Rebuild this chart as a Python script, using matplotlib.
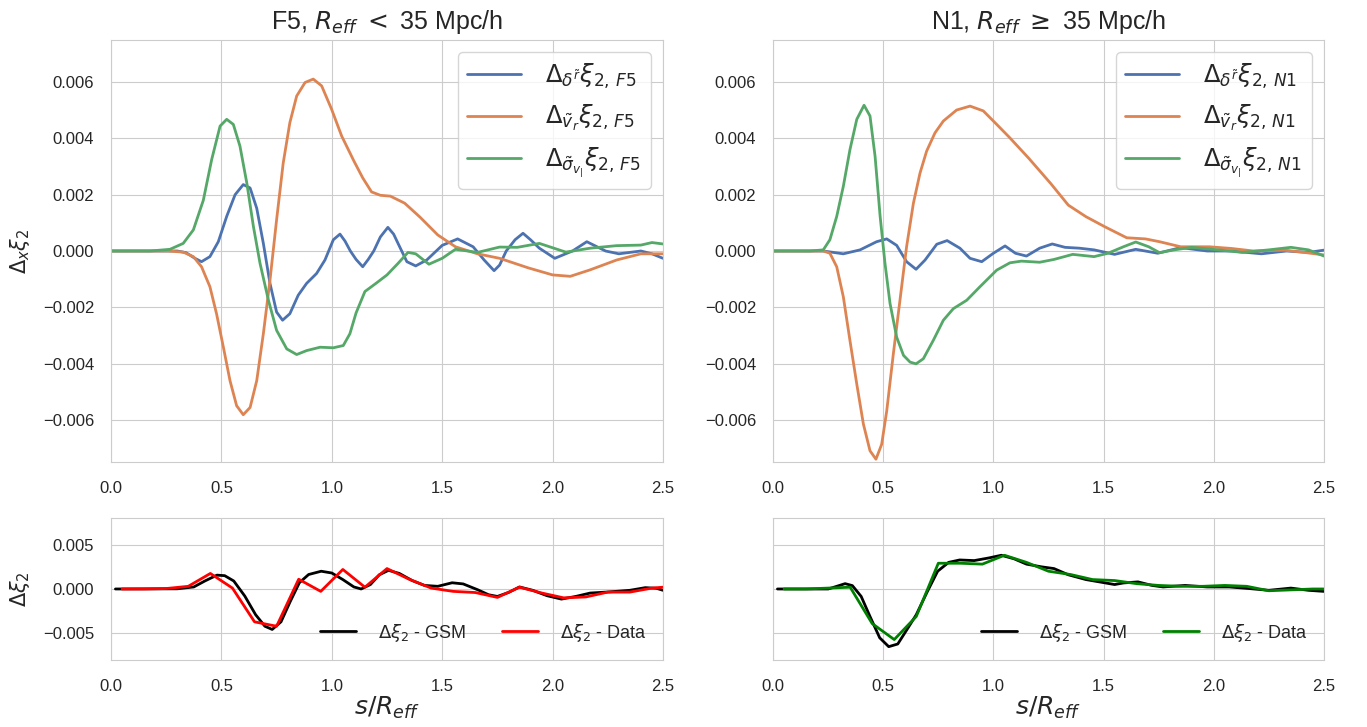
import matplotlib
matplotlib.use("Agg")
import matplotlib.pyplot as plt
import seaborn as sns

sns.set_style("whitegrid")
plt.rcParams['font.family'] = ['Liberation Sans', 'DejaVu Sans']
plt.rcParams['mathtext.fontset'] = 'dejavusans'

# ---- top panels: contributions to Delta xi_2 ----
# F5 (R_eff < 35 Mpc/h)
f5_delta_x = [0.0, 0.30, 0.34, 0.38, 0.41, 0.448, 0.486, 0.524, 0.562, 0.599, 0.63, 0.66,
              0.69, 0.72, 0.75, 0.777, 0.81, 0.848, 0.886, 0.931, 0.969, 1.007, 1.037,
              1.06, 1.084, 1.11, 1.14, 1.165, 1.19, 1.22, 1.254, 1.28, 1.30, 1.34, 1.38,
              1.43, 1.50, 1.57, 1.64, 1.69, 1.735, 1.76, 1.79, 1.83, 1.866, 1.90, 1.94,
              2.01, 2.09, 2.155, 2.24, 2.30, 2.40, 2.45, 2.5]
f5_delta_y = [0.0, 0.0, -0.00006, -0.00026, -0.00038, -0.0002, 0.00033, 0.00123, 0.002,
              0.00236, 0.00224, 0.00152, 0.00027, -0.00115, -0.00217, -0.00246, -0.00223,
              -0.00157, -0.00115, -0.0008, -0.00032, 0.0004, 0.0006, 0.00035, 0.0,
              -0.0003, -0.00056, -0.0003, 0.0, 0.0005, 0.00084, 0.0006, 0.00027, -0.00038,
              -0.00053, -0.00032, 0.0002, 0.00043, 0.00015, -0.00032, -0.0007, -0.0005,
              0.0, 0.0004, 0.00063, 0.0004, 0.0001, -0.00026, 0.0, 0.00033, 0.0, -0.0001,
              0.0, -0.0001, -0.00026]

f5_vr_x = [0.0, 0.26, 0.327, 0.373, 0.41, 0.448, 0.478, 0.509, 0.539, 0.569, 0.599, 0.63,
           0.66, 0.69, 0.72, 0.75, 0.78, 0.81, 0.841, 0.879, 0.916, 0.954, 0.999, 1.045,
           1.082, 1.10, 1.14, 1.18, 1.22, 1.265, 1.33, 1.40, 1.48, 1.56, 1.66, 1.76, 1.89,
           2.0, 2.08, 2.17, 2.29, 2.40, 2.5]
f5_vr_y = [0.0, 0.0, -0.00004, -0.0002, -0.00056, -0.00127, -0.00223, -0.00342, -0.00461,
           -0.0055, -0.00582, -0.00556, -0.00461, -0.00294, -0.00104, 0.00111, 0.00313,
           0.00456, 0.00551, 0.00599, 0.00611, 0.00587, 0.00504, 0.00408, 0.00349, 0.0032,
           0.0026, 0.0021, 0.00198, 0.00195, 0.0017, 0.0012, 0.00057, 0.00015, -0.0001,
           -0.00026, -0.0006, -0.00085, -0.0009, -0.00067, -0.00032, -0.0001, -0.0001]

f5_sig_x = [0.0, 0.177, 0.267, 0.327, 0.373, 0.418, 0.456, 0.494, 0.524, 0.554, 0.584,
            0.615, 0.645, 0.675, 0.713, 0.75, 0.796, 0.841, 0.886, 0.947, 1.007, 1.052,
            1.082, 1.11, 1.15, 1.20, 1.25, 1.30, 1.345, 1.38, 1.44, 1.50, 1.56, 1.66,
            1.76, 1.84, 1.94, 2.06, 2.17, 2.29, 2.40, 2.45, 2.5]
f5_sig_y = [0.0, 0.0, 0.00006, 0.00027, 0.00075, 0.0018, 0.00325, 0.00444, 0.00468,
            0.0045, 0.00373, 0.00242, 0.00087, -0.00044, -0.00175, -0.00282, -0.00348,
            -0.00368, -0.00354, -0.00342, -0.00344, -0.00336, -0.00294, -0.0022, -0.00144,
            -0.00115, -0.00085, -0.00044, -0.00005, -0.0001, -0.00047, -0.00026, 0.00006,
            -0.00005, 0.00014, 0.00013, 0.00027, -0.00004, 0.0001, 0.00019, 0.00021,
            0.0003, 0.00025]

# N1 (R_eff >= 35 Mpc/h)
n1_delta_x = [0.0, 0.228, 0.319, 0.395, 0.47, 0.516, 0.561, 0.606, 0.649, 0.69, 0.743,
              0.79, 0.848, 0.894, 0.947, 1.0, 1.053, 1.10, 1.15, 1.21, 1.267, 1.325, 1.39,
              1.457, 1.55, 1.646, 1.746, 1.85, 1.97, 2.08, 2.216, 2.33, 2.43, 2.5]
n1_delta_y = [0.0, 0.0, -0.0001, 0.00004, 0.00033, 0.00043, 0.0002, -0.00038, -0.00065,
              -0.00032, 0.00024, 0.00037, 0.0001, -0.00026, -0.00038, -0.00008, 0.00018,
              -0.00008, -0.00018, 0.0001, 0.00025, 0.00013, 0.0001, 0.00004, -0.00012,
              0.00006, -0.00008, 0.00012, 0.0, 0.0, -0.0001, 0.0, -0.00005, 0.00003]

n1_vr_x = [0.0, 0.228, 0.258, 0.289, 0.319, 0.349, 0.38, 0.41, 0.44, 0.467, 0.493, 0.516,
           0.546, 0.576, 0.606, 0.637, 0.667, 0.697, 0.735, 0.773, 0.833, 0.894, 0.954,
           1.015, 1.075, 1.16, 1.26, 1.34, 1.42, 1.506, 1.605, 1.69, 1.754, 1.85, 1.98,
           2.08, 2.18, 2.32, 2.41, 2.5]
n1_vr_y = [0.0, 0.0, -0.00008, -0.00056, -0.00163, -0.00318, -0.00473, -0.00615, -0.0071,
           -0.0074, -0.00687, -0.00568, -0.00365, -0.00175, 0.00015, 0.0017, 0.00277,
           0.00355, 0.0042, 0.00462, 0.00501, 0.00515, 0.00498, 0.0045, 0.00402, 0.0033,
           0.0024, 0.00163, 0.00122, 0.00086, 0.00047, 0.00043, 0.00033, 0.00015, 0.00015,
           0.00009, 0.0, 0.00003, -0.00005, -0.00014]

n1_sig_x = [0.0, 0.168, 0.228, 0.258, 0.289, 0.319, 0.349, 0.38, 0.413, 0.44, 0.463, 0.486,
            0.508, 0.531, 0.561, 0.592, 0.622, 0.649, 0.682, 0.727, 0.773, 0.818, 0.879,
            0.939, 1.015, 1.075, 1.127, 1.21, 1.275, 1.36, 1.457, 1.52, 1.59, 1.646,
            1.705, 1.754, 1.82, 1.90, 2.02, 2.13, 2.25, 2.35, 2.43, 2.5]
n1_sig_y = [0.0, 0.0, 0.00004, 0.0004, 0.00123, 0.0023, 0.0036, 0.00468, 0.00518, 0.0048,
            0.00337, 0.00123, -0.00044, -0.00187, -0.00306, -0.00371, -0.00395, -0.00401,
            -0.00383, -0.00318, -0.00246, -0.00205, -0.00175, -0.00127, -0.00068,
            -0.00042, -0.00036, -0.0004, -0.0003, -0.00012, -0.0002, -0.00008, 0.00015,
            0.00032, 0.00015, -0.00006, 0.00004, 0.00013, 0.00004, -0.00005, 0.00004,
            0.00013, 0.00004, -0.00018]

# ---- bottom panels: GSM vs data ----
f5_gsm_x = [0.02, 0.30, 0.375, 0.425, 0.48, 0.515, 0.556, 0.606, 0.655, 0.697, 0.73,
            0.77, 0.812, 0.853, 0.895, 0.952, 1.0, 1.05, 1.10, 1.133, 1.175, 1.215, 1.257,
            1.306, 1.364, 1.42, 1.48, 1.545, 1.595, 1.66, 1.71, 1.75, 1.80, 1.85, 1.91,
            1.975, 2.04, 2.105, 2.17, 2.25, 2.35, 2.42, 2.47, 2.5]
f5_gsm_y = [0.0, 0.00002, 0.00023, 0.0009, 0.00156, 0.0015, 0.0009, -0.0008, -0.0029,
            -0.0042, -0.00456, -0.0037, -0.0014, 0.0007, 0.00163, 0.002, 0.0018, 0.00106,
            0.00023, 0.0, 0.0005, 0.0016, 0.0021, 0.00175, 0.00095, 0.0004, 0.0003,
            0.0007, 0.00057, -0.00008, -0.00065, -0.00084, -0.0004, 0.00023, -0.00015,
            -0.00076, -0.00114, -0.00084, -0.00046, -0.00034, -0.00015, 0.00015, 0.00008,
            -0.00015]

data_x = [0.05, 0.15, 0.25, 0.35, 0.45, 0.55, 0.65, 0.75, 0.85, 0.95, 1.05, 1.15, 1.25,
          1.35, 1.45, 1.55, 1.65, 1.75, 1.85, 1.95, 2.05, 2.15, 2.25, 2.35, 2.45, 2.55]
f5_data_y = [0.0, 0.0, 0.00005, 0.0003, 0.00175, 0.0001, -0.0037, -0.0042, 0.0011,
             -0.00027, 0.0022, 0.0002, 0.0023, 0.0011, 0.0001, -0.00027, -0.0004,
             -0.00095, 0.0002, -0.00045, -0.001, -0.0009, -0.00035, -0.00035, 0.0001,
             0.0003]

n1_gsm_x = [0.02, 0.25, 0.27, 0.327, 0.36, 0.40, 0.44, 0.484, 0.525, 0.566, 0.607, 0.65,
            0.70, 0.747, 0.797, 0.847, 0.913, 0.98, 1.036, 1.094, 1.15, 1.217, 1.275,
            1.34, 1.42, 1.49, 1.55, 1.59, 1.656, 1.72, 1.77, 1.87, 1.97, 2.07, 2.165,
            2.25, 2.35, 2.43, 2.5]
n1_gsm_y = [0.0, 0.0, 0.00015, 0.0006, 0.00038, -0.00084, -0.0031, -0.0055, -0.0065,
            -0.0062, -0.0046, -0.0029, -0.0003, 0.002, 0.003, 0.00327, 0.0032, 0.0035,
            0.0038, 0.0034, 0.0028, 0.0025, 0.0023, 0.0016, 0.00106, 0.00076, 0.0005,
            0.00068, 0.0008, 0.0004, 0.00023, 0.0004, 0.00023, 0.00023, 0.00004, -0.00015,
            0.0001, -0.00015, -0.00027]
n1_data_y = [0.0, 0.0, 0.0001, 0.0002, -0.0039, -0.0057, -0.0031, 0.0029, 0.0029, 0.0028,
             0.0038, 0.003, 0.002, 0.00163, 0.00106, 0.00095, 0.0006, 0.0004, 0.0003,
             0.0003, 0.0004, 0.0003, -0.0002, -0.0001, 0.0, 0.0]

blue, orange, green = sns.color_palette("deep")[:3]

fig = plt.figure(figsize=(13.67, 7.27), dpi=100)
ax_tl = fig.add_axes([0.0812, 0.3645, 0.4038, 0.5805])
ax_tr = fig.add_axes([0.5655, 0.3645, 0.4030, 0.5805])
ax_bl = fig.add_axes([0.0812, 0.0922, 0.4038, 0.1953])
ax_br = fig.add_axes([0.5655, 0.0922, 0.4030, 0.1953])

top = [
    (ax_tl, "F5", r"F5, $R_{eff}$ $<$ 35 Mpc/h",
     (f5_delta_x, f5_delta_y), (f5_vr_x, f5_vr_y), (f5_sig_x, f5_sig_y)),
    (ax_tr, "N1", r"N1, $R_{eff}$ $\geq$ 35 Mpc/h",
     (n1_delta_x, n1_delta_y), (n1_vr_x, n1_vr_y), (n1_sig_x, n1_sig_y)),
]
for ax, tag, title, d, v, s in top:
    ax.plot(*d, color=blue, lw=2, label=r"$\Delta_{\delta^{\tilde{r}}}\xi_{2,\,%s}$" % tag)
    ax.plot(*v, color=orange, lw=2, label=r"$\Delta_{\tilde{v}_r}\xi_{2,\,%s}$" % tag)
    ax.plot(*s, color=green, lw=2, label=r"$\Delta_{\tilde{\sigma}_{v_|}}\xi_{2,\,%s}$" % tag)
    ax.set_xlim(0, 2.5)
    ax.set_ylim(-0.0075, 0.0075)
    ax.set_yticks([-0.006, -0.004, -0.002, 0.0, 0.002, 0.004, 0.006])
    ax.set_title(title, fontsize=18, pad=8)
    ax.legend(loc="upper right", fontsize=17.5, handlelength=2.2, handletextpad=1.0,
              framealpha=0.8)
ax_tl.set_ylabel(r"$\Delta_x\xi_2$", fontsize=15, labelpad=8)

bottom = [(ax_bl, f5_gsm_x, f5_gsm_y, f5_data_y, "red"),
          (ax_br, n1_gsm_x, n1_gsm_y, n1_data_y, "green")]
for ax, gx, gy, dy, col in bottom:
    ax.plot(gx, gy, color="black", lw=2, label=r"$\Delta\xi_2$ - GSM")
    ax.plot(data_x, dy, color=col, lw=2, label=r"$\Delta\xi_2$ - Data")
    ax.set_xlim(0, 2.5)
    ax.set_ylim(-0.008, 0.008)
    ax.set_yticks([-0.005, 0.0, 0.005])
    ax.set_yticklabels([])
    ax.set_xlabel(r"$s/R_{eff}$", fontsize=18, labelpad=0.5)
    ax.legend(loc="lower right", ncol=2, frameon=False, fontsize=13,
              borderaxespad=0.5, columnspacing=2.0, handletextpad=1.2)
ax_bl.set_yticklabels(["\u22120.005", "0.000", "0.005"])
ax_bl.set_ylabel(r"$\Delta\xi_2$", fontsize=15, labelpad=8)

for ax in (ax_tl, ax_tr, ax_bl, ax_br):
    ax.set_xticks([0.0, 0.5, 1.0, 1.5, 2.0, 2.5])
    ax.tick_params(axis="x", labelsize=12, pad=10)
    ax.tick_params(axis="y", labelsize=12, pad=8.5)

fig.savefig("out.png", dpi=100)
